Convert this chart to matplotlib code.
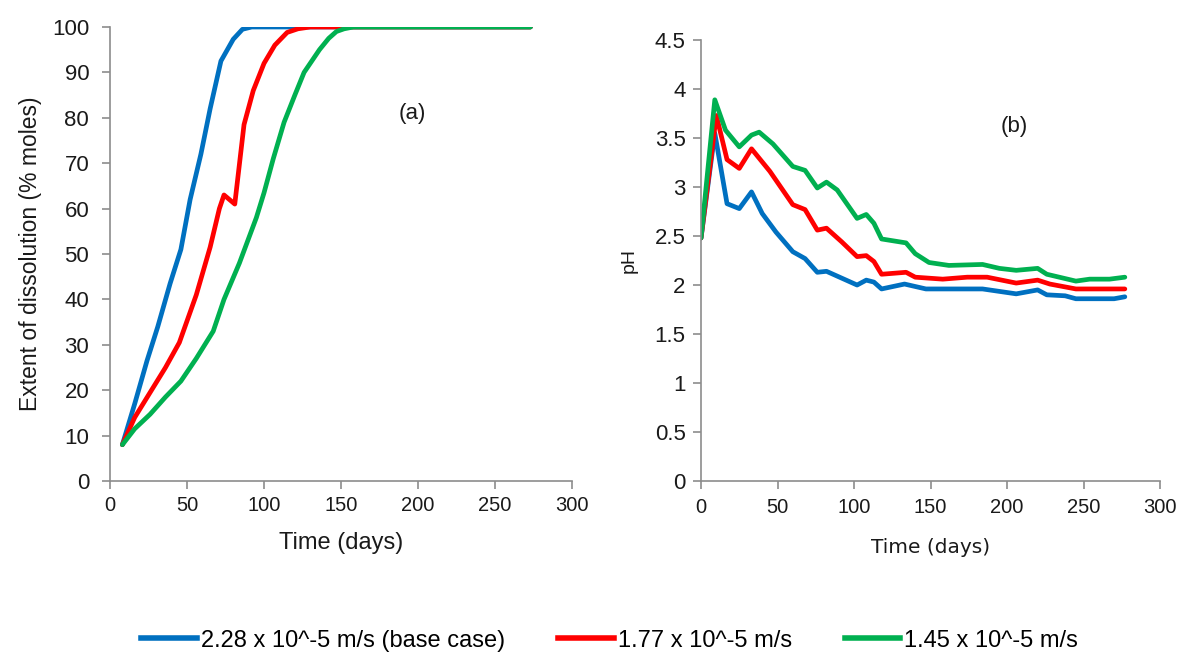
import matplotlib
matplotlib.use("Agg")
import matplotlib.pyplot as plt
from matplotlib.lines import Line2D

# ---- dissolution extent (% moles) vs time (days) ----
diss_days_base = [8, 16, 24, 31, 39, 46, 52, 59, 65, 72, 80, 86, 92, 273]
diss_base = [8, 17, 26.5, 34, 43.5, 51, 62, 72, 82, 92.5, 97.3, 99.5, 100, 100]

diss_days_mid = [8, 16, 26, 36, 45, 56, 65, 71, 74, 81, 87, 93, 100, 107, 115, 122, 130, 273]
diss_mid = [8, 14, 19.5, 25, 30.5, 41, 51.5, 60, 63, 61, 78.5, 86, 92, 96, 98.8, 99.6, 100, 100]

diss_days_low = [8, 16, 26, 36, 46, 56, 67, 74, 84, 95, 100, 106, 113, 120, 126, 131, 136,
                 142, 147, 152, 158, 273]
diss_low = [8, 11.5, 14.7, 18.5, 22, 27, 33, 40, 48, 58, 63.5, 71, 79, 85, 90, 92.5, 95,
            97.5, 99, 99.6, 100, 100]

# ---- pH vs time (days) ----
ph_days_base = [0, 9, 17, 25, 33, 40, 49, 60, 68, 76, 82, 92, 102, 108, 113, 118, 133, 147,
                184, 206, 220, 226, 238, 245, 270, 277]
ph_base = [2.48, 3.55, 2.83, 2.78, 2.95, 2.73, 2.54, 2.34, 2.27, 2.13, 2.14, 2.07, 2.00, 2.05,
           2.03, 1.96, 2.01, 1.96, 1.96, 1.91, 1.95, 1.90, 1.89, 1.86, 1.86, 1.88]

ph_days_mid = [0, 10, 17, 25, 33, 45, 60, 68, 76, 82, 92, 102, 108, 113, 118, 134, 140, 158,
               174, 187, 206, 220, 228, 245, 277]
ph_mid = [2.48, 3.73, 3.28, 3.19, 3.39, 3.16, 2.82, 2.77, 2.56, 2.58, 2.44, 2.29, 2.30, 2.24,
          2.11, 2.13, 2.08, 2.06, 2.08, 2.08, 2.02, 2.05, 2.01, 1.96, 1.96]

ph_days_low = [0, 9, 16, 25, 33, 38, 47, 60, 68, 76, 82, 89, 102, 108, 113, 118, 134, 140,
               149, 162, 184, 195, 206, 220, 226, 245, 254, 267, 277]
ph_low = [2.48, 3.89, 3.58, 3.41, 3.53, 3.56, 3.44, 3.21, 3.17, 2.99, 3.05, 2.97, 2.68, 2.72,
          2.63, 2.47, 2.43, 2.32, 2.23, 2.20, 2.21, 2.17, 2.15, 2.17, 2.11, 2.04, 2.06, 2.06, 2.08]

series_labels = ["2.28 x 10^-5 m/s (base case)", "1.77 x 10^-5 m/s", "1.45 x 10^-5 m/s"]
series_colors = ["#0070C0", "#FF0000", "#00B050"]

x_ticks = [0, 50, 100, 150, 200, 250, 300]
diss_ticks = list(range(0, 101, 10))
ph_ticks = [0, 0.5, 1, 1.5, 2, 2.5, 3, 3.5, 4, 4.5]
ph_tick_labels = ["0", "0.5", "1", "1.5", "2", "2.5", "3", "3.5", "4", "4.5"]

ARIAL = ["Liberation Sans", "DejaVu Sans"]
NARROW = ["Liberation Sans Narrow", "Liberation Sans", "DejaVu Sans"]
AXIS_GREY = "#8C8C8C"
TEXT = "#1A1A1A"
LW = 3.4

fig = plt.figure(figsize=(11.91, 6.55), dpi=100)
ax1 = fig.add_axes([0.0924, 0.2656, 0.3879, 0.6932])
ax2 = fig.add_axes([0.5886, 0.2656, 0.3854, 0.6733])


def style_axes(ax, xsize, ysize, xpad, ypad):
    for side in ("top", "right"):
        ax.spines[side].set_visible(False)
    for side in ("left", "bottom"):
        ax.spines[side].set_color(AXIS_GREY)
        ax.spines[side].set_linewidth(1.2)
    ax.tick_params(axis="both", direction="out", length=6, width=1.2, color=AXIS_GREY,
                   labelcolor=TEXT)
    ax.tick_params(axis="x", labelsize=xsize, pad=xpad)
    ax.tick_params(axis="y", labelsize=ysize, pad=ypad)
    for lab in ax.get_xticklabels() + ax.get_yticklabels():
        lab.set_family(ARIAL)


# (a) extent of dissolution
for d, v, c in zip([diss_days_base, diss_days_mid, diss_days_low],
                   [diss_base, diss_mid, diss_low], series_colors):
    ax1.plot(d, v, color=c, lw=LW, solid_joinstyle="round", solid_capstyle="round")
ax1.set_xlim(0, 300)
ax1.set_ylim(0, 100)
ax1.set_xticks(x_ticks)
ax1.set_yticks(diss_ticks)
style_axes(ax1, 14.5, 16, 5, 9)
ax1.set_xlabel("Time (days)", family=NARROW, fontsize=17, color=TEXT, labelpad=12)
ax1.set_ylabel("Extent of dissolution (% moles)", family=ARIAL, fontsize=16.5, color=TEXT,
               labelpad=7)
ax1.text(196, 81, "(a)", family=ARIAL, fontsize=16, color=TEXT, ha="center", va="center")

# (b) pH
for d, v, c in zip([ph_days_base, ph_days_mid, ph_days_low],
                   [ph_base, ph_mid, ph_low], series_colors):
    ax2.plot(d, v, color=c, lw=LW, solid_joinstyle="round", solid_capstyle="round")
ax2.set_xlim(0, 300)
ax2.set_ylim(0, 4.5)
ax2.set_xticks(x_ticks)
ax2.set_yticks(ph_ticks)
ax2.set_yticklabels(ph_tick_labels)
style_axes(ax2, 14.5, 16, 6, 5)
ax2.set_xlabel("Time (days)", family=["DejaVu Sans"], fontsize=14.5, color=TEXT, labelpad=15)
ax2.set_ylabel("pH", family=ARIAL, fontsize=14, color=TEXT, labelpad=12)
ax2.text(205, 3.62, "(b)", family=ARIAL, fontsize=16, color=TEXT, ha="center", va="center")

handles = [Line2D([0], [0], color=c, lw=LW + 0.6) for c in series_colors]
fig.legend(handles, series_labels, loc="center", bbox_to_anchor=(0.512, 0.022), ncol=3,
           frameon=False, prop={"family": NARROW, "size": 17}, handlelength=2.35,
           handletextpad=0.17, columnspacing=2.25, borderpad=0, borderaxespad=0)

fig.savefig("out.png", dpi=100)
